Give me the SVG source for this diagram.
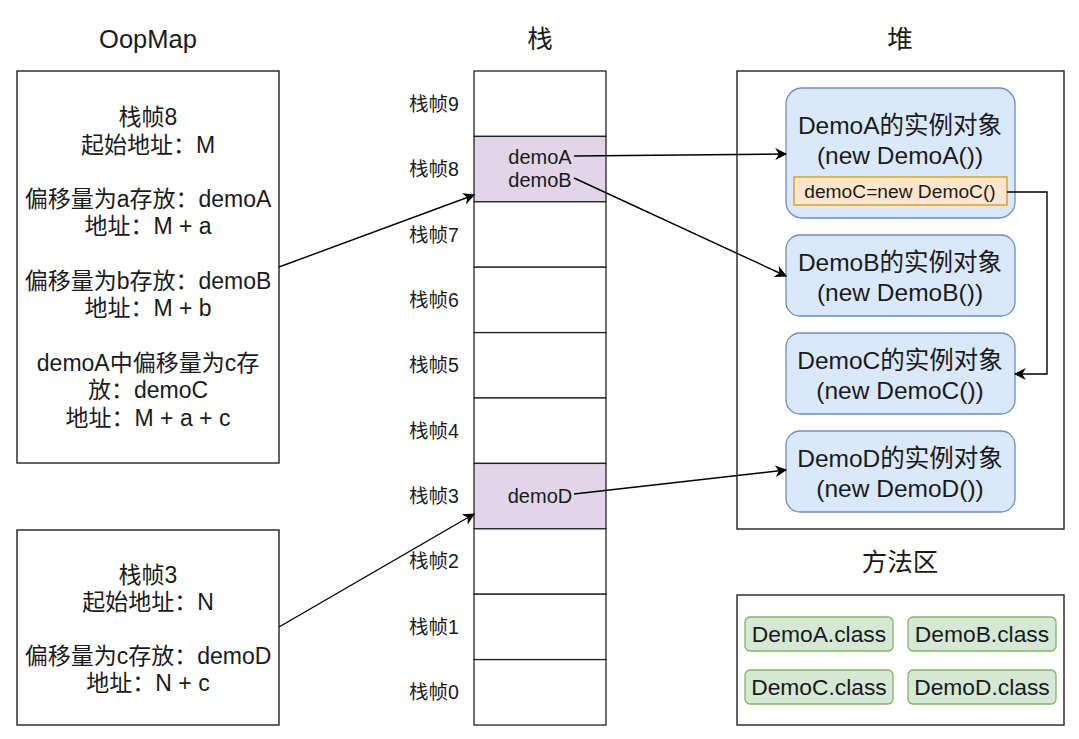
<svg xmlns="http://www.w3.org/2000/svg" width="1079" height="739" viewBox="0 0 1079 739">
<defs>
<marker id="arr" viewBox="0 0 10 10" refX="9" refY="5" markerWidth="12" markerHeight="12" markerUnits="userSpaceOnUse" orient="auto"><path d="M0,0 L10,5 L0,10 L3,5 Z" fill="#000"/></marker>
<style>
text{font-family:"Liberation Sans","Noto Sans CJK SC",sans-serif;fill:#1a1a1a;text-anchor:middle;dominant-baseline:central}
.box{fill:#fff;stroke:#222;stroke-width:1.4}
.t{font-size:25.5px}
.m{font-size:23px}
.n{font-size:24.5px}
.s{font-size:19.5px}
.d{font-size:20px}
.e{font-size:19.2px}
.k{font-size:22.8px}
.row{fill:#fff;stroke:#222;stroke-width:1.3}
.hl{fill:#e1d5e7;stroke:#222;stroke-width:1.3}
.obj{fill:#dae8fc;stroke:#6c8ebf;stroke-width:1.3}
.org{fill:#ffe6cc;stroke:#d79b00;stroke-width:1.3}
.cls{fill:#d5e8d4;stroke:#82b366;stroke-width:1.3}
.c{fill:none;stroke:#000;stroke-width:1.4;marker-end:url(#arr)}
</style>
</defs>
<rect width="1079" height="739" fill="#fff"/>
<g id="titles">
<text x="148" y="39" class="t">OopMap</text>
<text x="540" y="39" class="t">栈</text>
<text x="900" y="39" class="t">堆</text>
<text x="900" y="562" class="t">方法区</text>
</g>
<g id="oopmap8">
<rect x="17" y="71" width="262" height="392" class="box"/>
<text x="148" y="117" class="m">栈帧8</text>
<text x="148" y="145" class="m">起始地址：M</text>
<text x="148" y="199" class="m">偏移量为a存放：demoA</text>
<text x="148" y="226" class="m">地址：M + a</text>
<text x="148" y="281" class="m">偏移量为b存放：demoB</text>
<text x="148" y="308" class="m">地址：M + b</text>
<text x="148" y="363" class="m">demoA中偏移量为c存</text>
<text x="148" y="390" class="m">放：demoC</text>
<text x="148" y="418" class="m">地址：M + a + c</text>
</g>
<g id="oopmap3">
<rect x="17" y="530" width="262" height="195" class="box"/>
<text x="148" y="575" class="m">栈帧3</text>
<text x="148" y="602" class="m">起始地址：N</text>
<text x="148" y="656" class="m">偏移量为c存放：demoD</text>
<text x="148" y="683" class="m">地址：N + c</text>
</g>
<g id="stack">
<rect x="474" y="71" width="132" height="65.4" class="row"/>
<rect x="474" y="136.4" width="132" height="65.4" class="hl"/>
<rect x="474" y="201.8" width="132" height="65.4" class="row"/>
<rect x="474" y="267.2" width="132" height="65.4" class="row"/>
<rect x="474" y="332.6" width="132" height="65.4" class="row"/>
<rect x="474" y="398" width="132" height="65.4" class="row"/>
<rect x="474" y="463.4" width="132" height="65.4" class="hl"/>
<rect x="474" y="528.8" width="132" height="65.4" class="row"/>
<rect x="474" y="594.2" width="132" height="65.4" class="row"/>
<rect x="474" y="659.6" width="132" height="65.4" class="row"/>
<text x="434" y="104" class="s">栈帧9</text>
<text x="434" y="169" class="s">栈帧8</text>
<text x="434" y="235" class="s">栈帧7</text>
<text x="434" y="300" class="s">栈帧6</text>
<text x="434" y="365" class="s">栈帧5</text>
<text x="434" y="431" class="s">栈帧4</text>
<text x="434" y="496" class="s">栈帧3</text>
<text x="434" y="561" class="s">栈帧2</text>
<text x="434" y="627" class="s">栈帧1</text>
<text x="434" y="692" class="s">栈帧0</text>
<text x="540" y="157" class="d">demoA</text>
<text x="540" y="180" class="d">demoB</text>
<text x="540" y="496" class="d">demoD</text>
</g>
<g id="heap">
<rect x="737" y="71" width="327" height="458" class="box"/>
</g>
<g id="demoA-obj">
<rect x="786" y="88" width="229" height="130" rx="16" class="obj"/>
<text x="900" y="125" class="n">DemoA的实例对象</text>
<text x="900" y="155" class="n">(new DemoA())</text>
<rect x="794" y="177" width="213" height="28" class="org"/>
<text x="900" y="191" class="e">demoC=new DemoC()</text>
</g>
<g id="demoB-obj">
<rect x="786" y="235" width="229" height="81" rx="14" class="obj"/>
<text x="900" y="262" class="n">DemoB的实例对象</text>
<text x="900" y="292" class="n">(new DemoB())</text>
</g>
<g id="demoC-obj">
<rect x="786" y="333" width="229" height="81" rx="14" class="obj"/>
<text x="900" y="360" class="n">DemoC的实例对象</text>
<text x="900" y="390" class="n">(new DemoC())</text>
</g>
<g id="demoD-obj">
<rect x="786" y="431" width="229" height="81" rx="14" class="obj"/>
<text x="900" y="458" class="n">DemoD的实例对象</text>
<text x="900" y="488" class="n">(new DemoD())</text>
</g>
<g id="method-area">
<rect x="737" y="595" width="327" height="130" class="box"/>
</g>
<g id="classA"><rect x="745" y="617" width="148" height="34" rx="5" class="cls"/><text x="819" y="634" class="k">DemoA.class</text></g>
<g id="classB"><rect x="908" y="617" width="148" height="34" rx="5" class="cls"/><text x="982" y="634" class="k">DemoB.class</text></g>
<g id="classC"><rect x="745" y="670" width="148" height="34" rx="5" class="cls"/><text x="819" y="687" class="k">DemoC.class</text></g>
<g id="classD"><rect x="908" y="670" width="148" height="34" rx="5" class="cls"/><text x="982" y="687" class="k">DemoD.class</text></g>
<g id="connectors">
<path d="M279,267 L474,195" class="c"/>
<path d="M279,627 L474,514" class="c"/>
<path d="M574,156 L786,154" class="c"/>
<path d="M574,178 L786,276" class="c"/>
<path d="M574,494 L786,470" class="c"/>
<path d="M1007,192 L1047,192 L1047,374 L1015,374" class="c"/>
</g>
</svg>
